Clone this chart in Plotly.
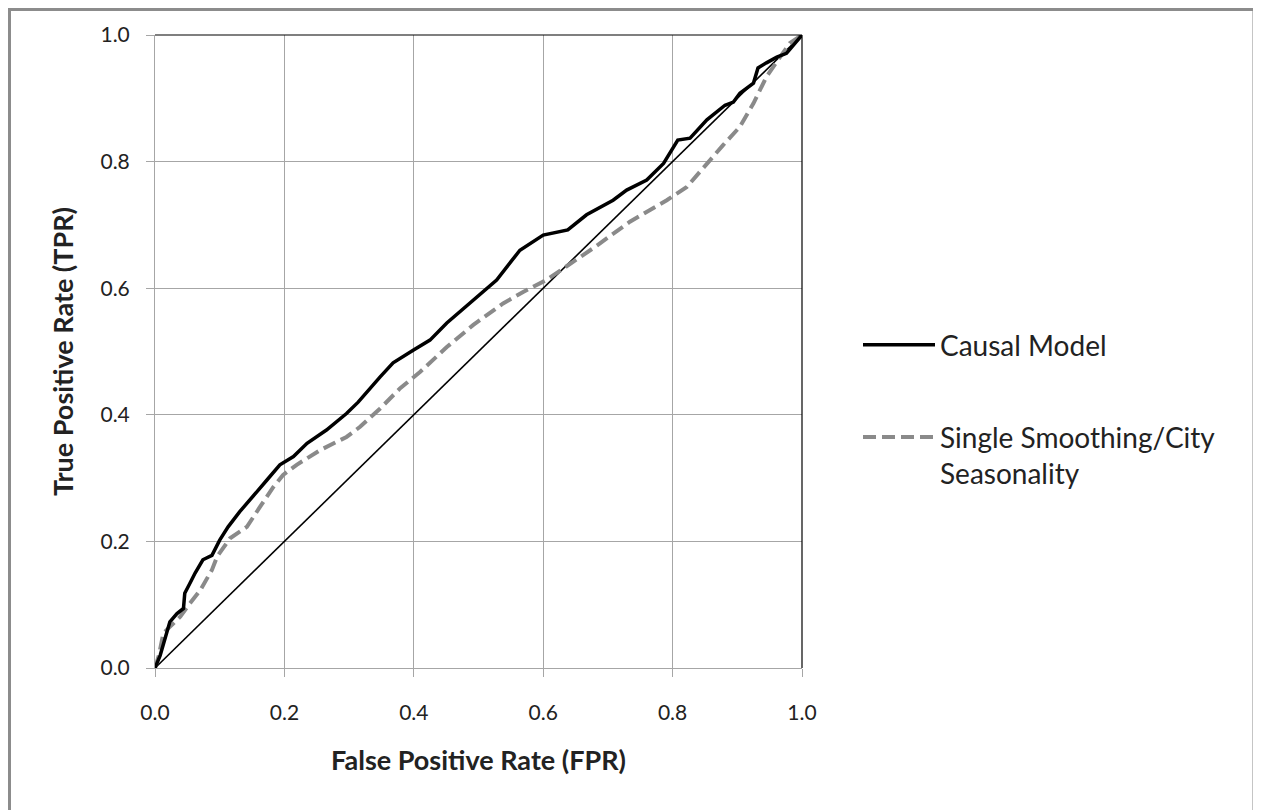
import plotly.graph_objects as go

# Causal Model ROC curve (FPR, TPR)
causal_fpr = [0.0, 0.008, 0.023, 0.034, 0.044, 0.046, 0.054, 0.062, 0.074, 0.088, 0.100, 0.113,
              0.131, 0.152, 0.173, 0.193, 0.214, 0.235, 0.265, 0.296, 0.314, 0.348, 0.368, 0.399,
              0.425, 0.451, 0.497, 0.528, 0.564, 0.600, 0.638, 0.667, 0.708, 0.729, 0.760, 0.786,
              0.808, 0.827, 0.853, 0.881, 0.894, 0.904, 0.925, 0.932, 0.945, 0.961, 0.976, 1.0]
causal_tpr = [0.0, 0.02, 0.073, 0.086, 0.094, 0.118, 0.134, 0.150, 0.171, 0.178, 0.202, 0.223,
              0.247, 0.273, 0.297, 0.321, 0.334, 0.355, 0.376, 0.402, 0.420, 0.460, 0.482, 0.502,
              0.518, 0.545, 0.586, 0.613, 0.660, 0.684, 0.692, 0.716, 0.739, 0.755, 0.771, 0.797,
              0.834, 0.837, 0.866, 0.889, 0.894, 0.908, 0.924, 0.948, 0.956, 0.965, 0.971, 1.0]

# Single Smoothing/City Seasonality ROC curve
single_fpr = [0.0, 0.006, 0.013, 0.023, 0.039, 0.054, 0.070, 0.088, 0.096, 0.116, 0.142, 0.162,
              0.183, 0.198, 0.219, 0.255, 0.296, 0.317, 0.348, 0.379, 0.410, 0.451, 0.492, 0.538,
              0.569, 0.605, 0.636, 0.677, 0.734, 0.791, 0.822, 0.853, 0.878, 0.904, 0.925, 0.945,
              0.966, 0.981, 1.0]
single_tpr = [0.0, 0.02, 0.055, 0.065, 0.081, 0.102, 0.123, 0.155, 0.176, 0.205, 0.223, 0.254,
              0.286, 0.305, 0.321, 0.344, 0.365, 0.381, 0.410, 0.442, 0.468, 0.507, 0.542, 0.576,
              0.594, 0.613, 0.634, 0.663, 0.705, 0.739, 0.760, 0.797, 0.826, 0.855, 0.892, 0.934,
              0.965, 0.987, 1.0]

# Reference diagonal
diag_x = [0.0, 1.0]
diag_y = [0.0, 1.0]

tick_vals = [0.0, 0.2, 0.4, 0.6, 0.8, 1.0]
tick_text = ["0.0", "0.2", "0.4", "0.6", "0.8", "1.0"]

FONT = "Lato, 'Open Sans', sans-serif"

# page is offset by 8px (body margin); layout numbers below compensate
L, T, PW, PH = 147, 27, 647, 633
W, H = 1253, 802

fig = go.Figure()
fig.add_trace(go.Scatter(x=diag_x, y=diag_y, mode="lines", showlegend=False,
                         line=dict(color="black", width=1.6), hoverinfo="skip"))
fig.add_trace(go.Scatter(x=single_fpr, y=single_tpr, mode="lines",
                         name="Single Smoothing/City<br>Seasonality",
                         legendgroup="b", legendrank=2,
                         line=dict(color="#8a8a8a", width=4, dash="13px,6px")))
fig.add_trace(go.Scatter(x=causal_fpr, y=causal_tpr, mode="lines", name="Causal Model",
                         legendgroup="a", legendrank=1,
                         line=dict(color="black", width=3.5)))

axis_common = dict(range=[0, 1], tickvals=tick_vals, ticktext=tick_text,
                   showgrid=True, gridcolor="#a6a6a6", gridwidth=1,
                   showline=True, linecolor="#a6a6a6", linewidth=1,
                   ticks="outside", ticklen=8, tickcolor="#a6a6a6",
                   zeroline=False, tickfont=dict(family=FONT, size=21, color="#222222"))

fig.update_xaxes(**axis_common, ticklabelstandoff=18,
                 title=dict(text="<b>False Positive Rate (FPR)</b>", standoff=27,
                            font=dict(family=FONT, size=27, color="#222222")))
fig.update_yaxes(**axis_common, ticklabelstandoff=12,
                 title=dict(text="<b>True Positive Rate (TPR)</b>", standoff=19,
                            font=dict(family=FONT, size=27, color="#222222")))

# top and right plot-area borders (black), outer chart frame (grey)
fig.add_shape(type="line", xref="paper", yref="paper", x0=0, x1=1, y0=1, y1=1,
              line=dict(color="black", width=1.2))
fig.add_shape(type="line", xref="paper", yref="paper", x0=1, x1=1, y0=0, y1=1,
              line=dict(color="black", width=1.2))
fig.add_shape(type="rect", xref="paper", yref="paper",
              x0=(1.5 - L) / PW, x1=(1246 - L) / PW,
              y0=(T + PH - 830) / PH, y1=(T + PH - 1.5) / PH,
              line=dict(color="#8c8c8c", width=3), layer="below")

fig.update_layout(
    width=W, height=H,
    margin=dict(l=L, r=W - L - PW, t=T, b=H - T - PH, autoexpand=False),
    paper_bgcolor="white", plot_bgcolor="white",
    font=dict(family=FONT, color="#222222"),
    legend=dict(x=(850 - L) / PW, y=(T + PH - 312) / PH, xanchor="left", yanchor="top",
                font=dict(family=FONT, size=28, color="#222222"),
                tracegroupgap=53, itemwidth=72, valign="top",
                bgcolor="rgba(0,0,0,0)"),
)

fig.write_html("out.html")
